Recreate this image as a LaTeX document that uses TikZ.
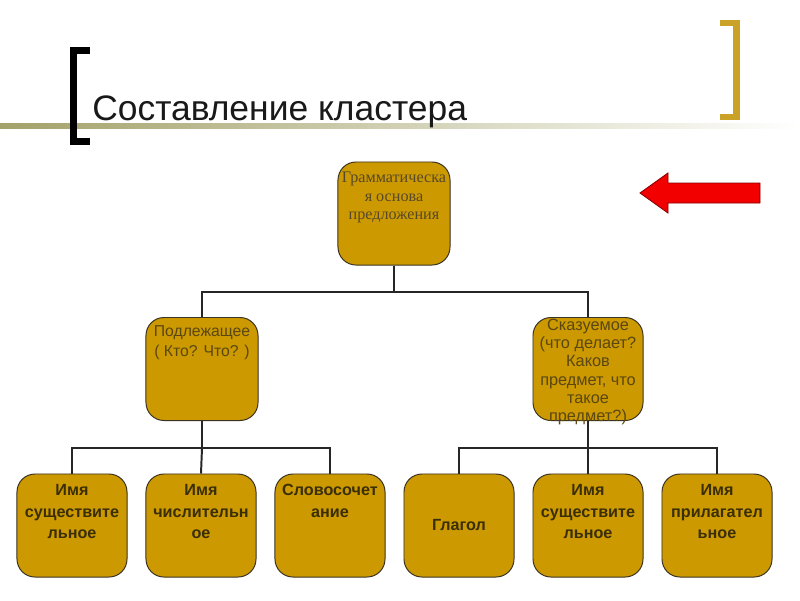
\documentclass[tikz,border=0pt]{standalone}
\usepackage{fontspec}
\setmainfont{Liberation Sans}
\newfontfamily\serifface{Liberation Serif}
\usetikzlibrary{calc}

\definecolor{boxfill}{HTML}{CC9900}
\definecolor{boxline}{HTML}{3A3222}
\definecolor{goldbar}{HTML}{C9A227}
\definecolor{arrowred}{HTML}{F20000}
\definecolor{arrowline}{HTML}{8A0000}
\definecolor{olivebar}{HTML}{A3A26A}
\definecolor{lowtext}{HTML}{3A2E05}
\definecolor{midtext}{HTML}{5A4712}
\definecolor{toptext}{HTML}{56492A}

\newcommand{\cardtext}[3]{\parbox[c][2.575cm][t]{2.7cm}{\centering\vspace*{#1}#2\par #3}}

\begin{document}
\begin{tikzpicture}[x=0.025cm,y=-0.025cm,
    card/.style={draw=boxline, line width=0.7pt, fill=boxfill,
      rounded corners=0.45cm, inner sep=0pt,
      minimum width=2.75cm, minimum height=2.575cm},
    link/.style={line width=1.4pt, draw=black!85},
    lowfont/.style={font=\bfseries\fontsize{11.5}{15.2}\selectfont, text=lowtext},
  ]
  \useasboundingbox (0,0) rectangle (800,600);
  \fill[white] (0,0) rectangle (800,600);

  % title bar
  \shade[left color=olivebar, right color=white] (0,123) rectangle (800,128);
  \fill[black] (70,47) rectangle (77,145);
  \fill[black] (70,47) rectangle (90,54);
  \fill[black] (70,138) rectangle (90,145);
  \fill[goldbar] (733,20) rectangle (740,120);
  \fill[goldbar] (720,20) rectangle (740,26);
  \fill[goldbar] (720,114) rectangle (740,120);
  \node[anchor=base west, inner sep=0pt, text=black!90,
    font=\fontsize{25.2}{30}\selectfont] (title) at (92,120) {Составление кластера};

  % red arrow
  \draw[fill=arrowred, draw=arrowline, line width=0.6pt]
    (760,183) -- (668,183) -- (668,173) -- (640,193) -- (668,213)
    -- (668,203) -- (760,203) -- cycle;

  % cards
  \node[card, minimum width=2.8cm] (base) at (394,213.5)
    {\cardtext{7pt}{\serifface\fontsize{11.5}{13.3}\selectfont\color{toptext}}{Грамматическа\\я основа\\предложения}};
  \node[card, minimum width=2.8cm] (subj) at (202,369)
    {\cardtext{6pt}{\fontsize{11.2}{14.2}\selectfont\color{midtext}}{Подлежащее\\( Кто? Что? )}};
  \node[card] (pred) at (588,369)
    {\cardtext{1pt}{\fontsize{11.6}{13}\selectfont\color{midtext}}{Сказуемое\\(что делает?\\Каков\\предмет, что\\такое\\предмет?)}};

  \node[card] (noun1) at (72,525.5)
    {\cardtext{7.5pt}{\bfseries\fontsize{11.5}{15.4}\selectfont\color{lowtext}}{Имя\\существите\\льное}};
  \node[card] (numer) at (201,525.5)
    {\cardtext{7.5pt}{\bfseries\fontsize{11.5}{15.4}\selectfont\color{lowtext}}{Имя\\числительн\\ое}};
  \node[card] (phrase) at (330,525.5)
    {\cardtext{7.5pt}{\bfseries\fontsize{11.5}{15.4}\selectfont\color{lowtext}}{Словосочет\\ание}};
  \node[card, lowfont] (verb) at (459,525.5) {Глагол};
  \node[card] (noun2) at (588,525.5)
    {\cardtext{7.5pt}{\bfseries\fontsize{11.5}{15.4}\selectfont\color{lowtext}}{Имя\\существите\\льное}};
  \node[card] (adj) at (717,525.5)
    {\cardtext{7.5pt}{\bfseries\fontsize{11.5}{15.4}\selectfont\color{lowtext}}{Имя\\прилагател\\ьное}};

  % tree
  \coordinate (j0) at (394,292);
  \coordinate (j1) at (202,448);
  \coordinate (j2) at (588,448);
  \draw[link] (base.south) -- (j0);
  \draw[link] (j0) -| (subj.north);
  \draw[link] (j0) -| (pred.north);
  \draw[link] (subj.south) -- (j1);
  \draw[link] (j1) -| (noun1.north);
  \draw[link] (j1) -- (numer.north);
  \draw[link] (j1) -| (phrase.north);
  \draw[link] (pred.south) -- (j2);
  \draw[link] (j2) -| (verb.north);
  \draw[link] (j2) -- (noun2.north);
  \draw[link] (j2) -| (adj.north);
\end{tikzpicture}
\end{document}
